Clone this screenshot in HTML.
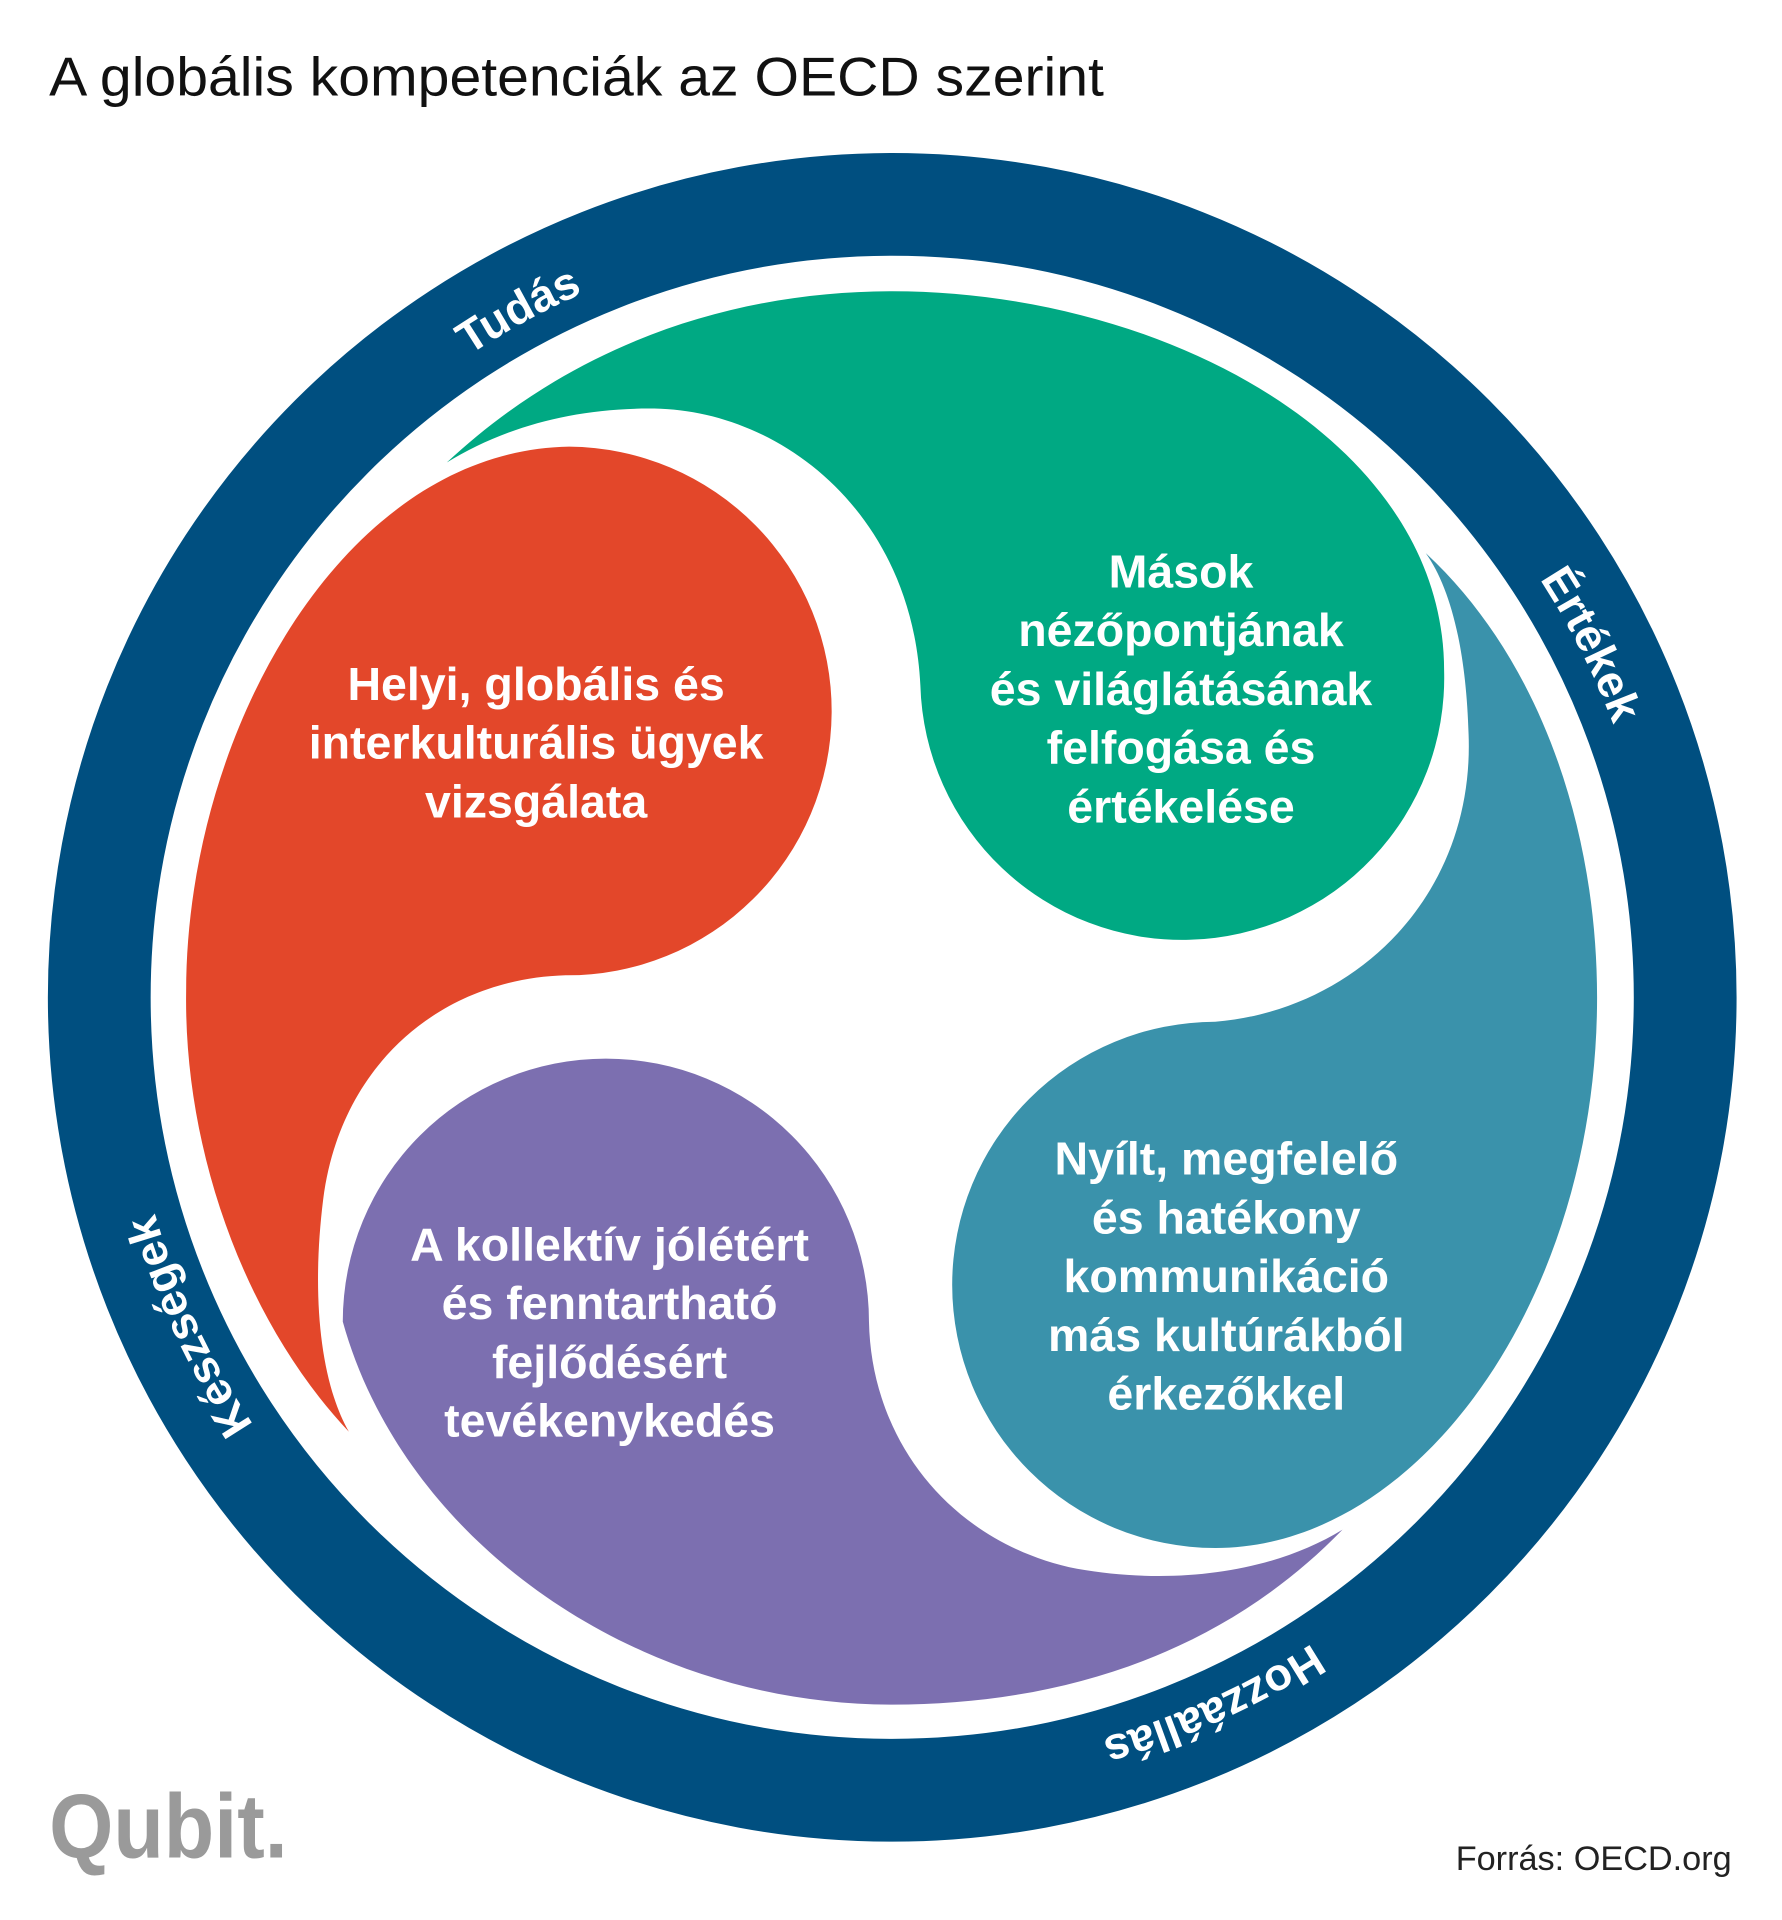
<!DOCTYPE html>
<html><head><meta charset="utf-8"><style>
html,body{margin:0;padding:0;background:#fff;}
svg{display:block;}
</style></head><body>
<svg width="1782" height="1920" viewBox="0 0 1456 1569" xmlns="http://www.w3.org/2000/svg">
<rect width="1456" height="1569" fill="#fff"/>
<text x="40" y="78" font-family="Liberation Sans, sans-serif" font-size="45" fill="#111" textLength="862" lengthAdjust="spacingAndGlyphs">A globális kompetenciák az OECD szerint</text>
<circle cx="729" cy="815" r="648" fill="none" stroke="#004f80" stroke-width="84"/>
<defs>
<path id="ring" d="M 138.9,600.2 A 629 629 0 1 1 138.9,1029.8 A 629 629 0 0 1 138.9,600.2"/>
</defs>
<g font-family="Liberation Sans, sans-serif" font-weight="bold" font-size="37" fill="#fff" text-anchor="middle">
<text><textPath href="#ring" startOffset="11.5%">Tudás</textPath></text>
<text><textPath href="#ring" startOffset="37.0%">Értékek</textPath></text>
<text><textPath href="#ring" startOffset="62.7%">Hozzáállás</textPath></text>
<text><textPath href="#ring" startOffset="87.5%">Készségek</textPath></text>
</g>
<path fill="#e3472a" d="M 285,1170 C 200,1080 150,940 152,810 C 152,600 280,368 465,365 A 216 216 0 0 1 462,797 C 360,800 278,870 264,980 C 254,1060 262,1130 285,1170 Z"/>
<path fill="#00a983" d="M 365,378 C 470,280 600,238 729,238 C 950,238 1180,360 1180,548 A 214 214 0 0 1 752,560 C 745,420 640,338 540,334 C 470,332 410,350 365,378 Z"/>
<path fill="#3a92ab" d="M 1165,452 C 1260,540 1305,680 1305,815 C 1305,1060 1160,1265 993,1265 A 215 215 0 0 1 993,835 C 1110,825 1205,730 1200,600 C 1198,530 1185,480 1165,452 Z"/>
<path fill="#7c6fb0" d="M 280,1080 A 215 215 0 0 1 710,1080 C 712,1180 780,1262 880,1282 C 960,1296 1040,1285 1097,1250 C 1000,1350 870,1393 729,1393 C 520,1393 330,1260 280,1080 Z"/>
<g font-family="Liberation Sans, sans-serif" font-weight="bold" font-size="38" fill="#fff" text-anchor="middle">
<text x="438" y="572">Helyi, globális és</text>
<text x="438" y="620">interkulturális ügyek</text>
<text x="438" y="668">vizsgálata</text>
<text x="965" y="480">Mások</text>
<text x="965" y="528">nézőpontjának</text>
<text x="965" y="576">és világlátásának</text>
<text x="965" y="624">felfogása és</text>
<text x="965" y="672">értékelése</text>
<text x="498" y="1030">A kollektív jólétért</text>
<text x="498" y="1078">és fenntartható</text>
<text x="498" y="1126">fejlődésért</text>
<text x="498" y="1174">tevékenykedés</text>
<text x="1002" y="960">Nyílt, megfelelő</text>
<text x="1002" y="1008">és hatékony</text>
<text x="1002" y="1056">kommunikáció</text>
<text x="1002" y="1104">más kultúrákból</text>
<text x="1002" y="1152">érkezőkkel</text>
</g>
<text x="40" y="1518" font-family="Liberation Sans, sans-serif" font-weight="bold" font-size="74" fill="#9a9a9a" textLength="195" lengthAdjust="spacingAndGlyphs">Qubit.</text>
<text x="1415" y="1528" font-family="Liberation Sans, sans-serif" font-size="28" fill="#222" text-anchor="end">Forrás: OECD.org</text>
</svg>
</body></html>
